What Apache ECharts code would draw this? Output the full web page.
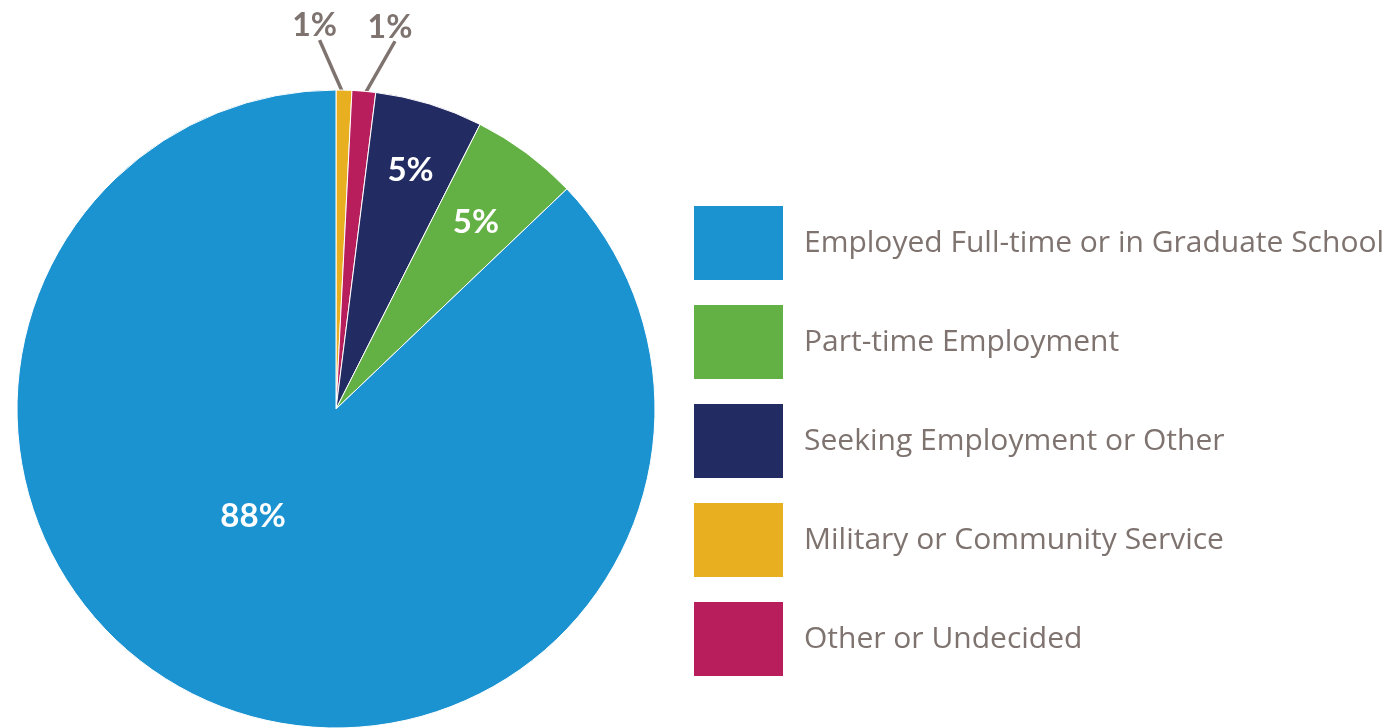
<!DOCTYPE html>
<html>
<head>
<meta charset="utf-8">
<script src="https://cdn.jsdelivr.net/npm/echarts@6/dist/echarts.min.js"></script>
<style>
html,body{margin:0;padding:0;background:#fff;}
#chart{width:1391px;height:728px;}
</style>
</head>
<body>
<div id="chart"></div>
<script>
// Data (pie order clockwise from 12 o'clock)
const categories = ['Military or Community Service', 'Other or Undecided', 'Seeking Employment or Other', 'Part-time Employment', 'Employed Full-time or in Graduate School'];
const values = [0.8, 1.2, 5.49, 5.45, 87.5];
const legendOrder = ['Employed Full-time or in Graduate School', 'Part-time Employment', 'Seeking Employment or Other', 'Military or Community Service', 'Other or Undecided'];

const colors = {
  'Employed Full-time or in Graduate School': '#1C93D1',
  'Part-time Employment': '#63B045',
  'Seeking Employment or Other': '#232B63',
  'Military or Community Service': '#E8B021',
  'Other or Undecided': '#B81E5B'
};
const FONT = 'Lato';
const LEGEND_FONT = 'Open Sans';
const GRAY = '#7E736F';

const insideLabel = { show: true, position: 'inside', color: '#fff', fontFamily: FONT, fontWeight: 'bold', fontSize: 33 };
const outsideLabel = { show: true, position: 'outside', color: GRAY, fontFamily: FONT, fontWeight: 'bold', fontSize: 32 };

const labelCfg = {
  'Employed Full-time or in Graduate School': Object.assign({}, insideLabel, { offset: [-19, -42] }),
  'Part-time Employment': Object.assign({}, insideLabel, { offset: [43, -56] }),
  'Seeking Employment or Other': Object.assign({}, insideLabel, { offset: [27, -83] }),
  'Military or Community Service': outsideLabel,
  'Other or Undecided': outsideLabel
};
// label shift [dx, dy] for the two small outside labels
const shift = {
  'Military or Community Service': [-57, -56],
  'Other or Undecided': [-2, -56]
};

const data = categories.map((c, i) => ({
  name: c,
  value: values[i],
  itemStyle: { color: colors[c] },
  label: labelCfg[c],
  labelLine: { show: labelCfg[c].position === 'outside', length: 8, length2: 0, lineStyle: { color: GRAY, width: 3.5 } }
}));

const chart = echarts.init(document.getElementById('chart'));
chart.setOption({
  animation: false,
  legend: {
    orient: 'vertical',
    left: 692,
    top: 204,
    padding: 0,
    itemWidth: 91,
    itemHeight: 76,
    itemGap: 21,
    icon: 'rect',
    data: legendOrder,
    textStyle: { color: GRAY, fontFamily: LEGEND_FONT, fontSize: 30, padding: [0, 0, 0, 15] }
  },
  series: [{
    type: 'pie',
    center: [336, 409],
    radius: [0, 319],
    startAngle: 90,
    clockwise: true,
    avoidLabelOverlap: false,
    itemStyle: { borderColor: '#fff', borderWidth: 1 },
    label: { formatter: p => Math.round(p.value) + '%' },
    labelLayout: function (params) {
      const s = shift[categories[params.dataIndex]];
      if (!s || !params.labelLinePoints) return {};
      const r = params.labelRect;
      const p0 = params.labelLinePoints[0];
      const endX = r.x + r.width / 2 + s[0] + 5;
      const endY = r.y + r.height + s[1] - 2;
      // start the leader a little inside the slice, toward the pie centre
      const start = [p0[0] + (336 - p0[0]) * 0.016, p0[1] + (409 - p0[1]) * 0.016];
      return { dx: s[0], dy: s[1], labelLinePoints: [start, [endX, endY], [endX, endY]] };
    },
    data: data
  }]
});
</script>
</body>
</html>
